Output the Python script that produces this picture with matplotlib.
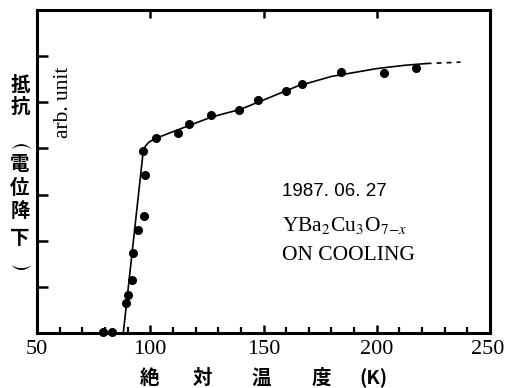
import matplotlib
matplotlib.use("Agg")
import matplotlib.pyplot as plt
from matplotlib.ticker import MultipleLocator, FixedLocator

plt.rcParams["mathtext.fontset"] = "stix"

# measured points (K, arb. unit)
temp_pts = [79.3, 83.0, 89.3, 90.0, 91.8, 92.3, 94.7, 97.4, 97.7, 96.9, 102.5,
            112.4, 117.2, 126.7, 139.3, 147.4, 159.8, 166.9, 184.2, 203.3, 217.3]
res_pts = [0.02, 0.02, 0.65, 0.83, 1.15, 1.73, 2.24, 2.53, 3.43, 3.94, 4.23,
           4.34, 4.52, 4.72, 4.83, 5.04, 5.25, 5.39, 5.65, 5.63, 5.74]

# hand-drawn guide line
temp_line = [88.1, 96.9, 98.0, 99.5, 102.5, 112.0, 127.0, 140.0, 150.0, 165.0, 180.0, 200.0, 212.0, 222.0]
res_line = [0.0, 3.94, 4.06, 4.14, 4.22, 4.40, 4.68, 4.85, 5.05, 5.35, 5.56, 5.73, 5.80, 5.84]
temp_dash = [222.0, 237.0]
res_dash = [5.84, 5.87]

xticks_major = [50, 100, 150, 200, 250]
top_ticks = [100, 150, 200]
left_ticks = [1, 2, 3, 4, 5, 6]

fig = plt.figure(figsize=(5.05, 3.88), dpi=100)
ax = fig.add_axes([37/505, 1 - 333/388, (490 - 37)/505, (333 - 10)/388])

ax.plot(temp_line, res_line, color="black", lw=1.2, zorder=3)
ax.plot(temp_dash, res_dash, color="black", lw=1.2, ls=(0, (3, 3)), zorder=3)
ax.plot(temp_pts, res_pts, "o", color="black", ms=5.5, zorder=4, clip_on=False)

ax.set_xlim(50, 250)
ax.set_ylim(0, 7)

for s in ax.spines.values():
    s.set_linewidth(2.2)

ax.xaxis.set_major_locator(FixedLocator(xticks_major))
ax.xaxis.set_minor_locator(MultipleLocator(10))
ax.tick_params(axis="x", which="major", direction="in", length=6, width=1.8,
               top=False, labelbottom=False)
ax.tick_params(axis="x", which="minor", direction="in", length=4, width=1.6, top=False)

# tick labels written by hand so the last one stays inside the figure
for v in xticks_major:
    ha = "right" if v == xticks_major[-1] else "center"
    xx = v + 6.5 if v == xticks_major[-1] else v
    ax.text(xx, -0.022, str(v), transform=ax.get_xaxis_transform(), ha=ha, va="top",
            fontsize=16, family="Liberation Serif")

ax.yaxis.set_major_locator(FixedLocator(left_ticks))
ax.tick_params(axis="y", direction="in", length=8, width=1.8, right=False, labelleft=False)

# ticks along the top edge
sec = ax.secondary_xaxis("top")
sec.xaxis.set_major_locator(FixedLocator(top_ticks))
sec.tick_params(direction="in", length=6, width=1.8, labeltop=False)
sec.spines["top"].set_visible(False)

# annotation block
fig.text(282/505, 1 - 191/388, "1987. 06. 27", fontsize=13.5,
         family="Liberation Sans", va="center")
fig.text(282/505, 1 - 225/388, r"YBa$_2$Cu$_3$O$_{7\!-\!x}$", fontsize=15.5,
         family="Liberation Serif", va="center")
fig.text(282/505, 1 - 255/388, "ON COOLING", fontsize=15.5,
         family="Liberation Serif", va="center")

# axis labels
fig.text(63/505, 1 - 102/388, "arb. unit", rotation=90, fontsize=15.5,
         family="Liberation Serif", ha="center", va="center")

cjk = ["Noto Sans CJK JP", "DejaVu Sans"]
ylab_chars = ["抵", "抗", "電", "位", "降", "下"]
ylab_y = [85, 107, 164, 188, 212, 238]
for ch, yy in zip(ylab_chars, ylab_y):
    fig.text(20/505, 1 - yy/388, ch, fontsize=14, family=cjk,
             weight="bold", ha="center", va="center")
# brackets of vertical writing
fig.text(20/505, 1 - 144/388, r"$\frown$", fontsize=15, ha="center", va="center")
fig.text(20/505, 1 - 265/388, r"$\smile$", fontsize=15, ha="center", va="center")

xlab_chars = ["絶", "対", "温", "度", "(K)"]
xlab_x = [149, 202, 261, 321, 373]
for ch, xx in zip(xlab_chars, xlab_x):
    fig.text(xx/505, 1 - 378/388, ch, fontsize=14, family=cjk, weight="bold",
             ha="center", va="center")

fig.savefig("out.png", dpi=100)
